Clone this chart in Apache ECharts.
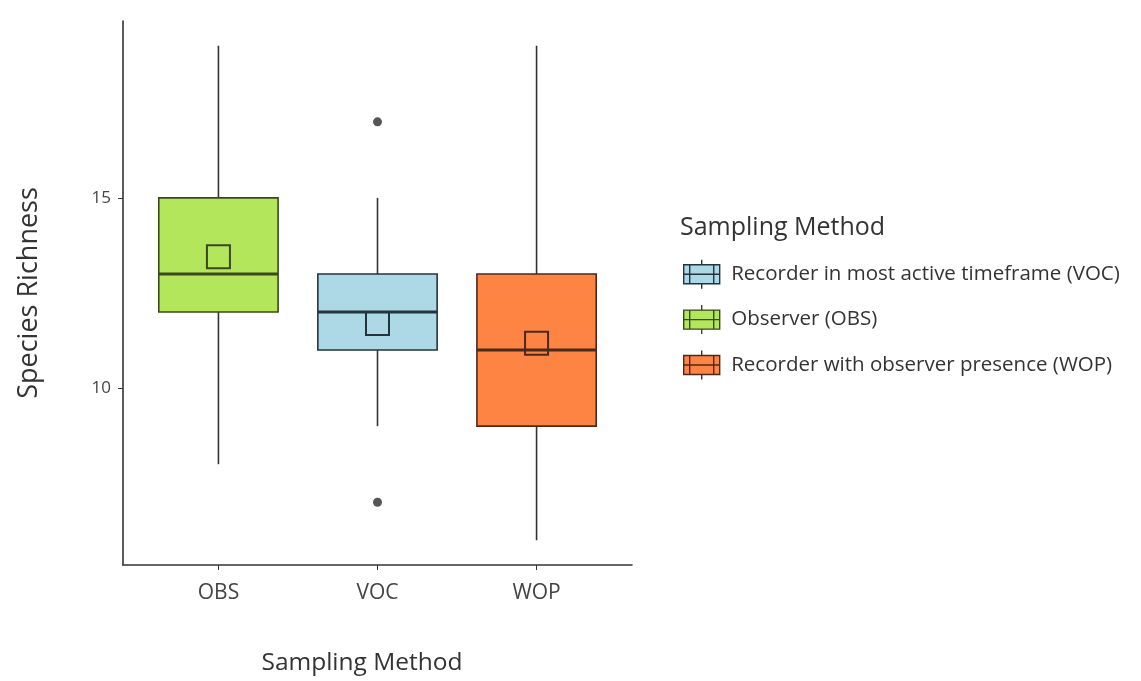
<!DOCTYPE html>
<html>
<head>
<meta charset="utf-8">
<title>Species Richness by Sampling Method</title>
<script src="https://cdn.jsdelivr.net/npm/echarts@6/dist/echarts.min.js"></script>
<style>
  html, body { margin: 0; padding: 0; background: #ffffff; }
  #chart { width: 1141px; height: 681px; }
</style>
</head>
<body>
<div id="chart"></div>
<script>
// Sampling methods along the x axis (positions 1, 2, 3)
const categories = ['OBS', 'VOC', 'WOP'];
const legendLabels = [
  'Observer (OBS)',
  'Recorder in most active timeframe (VOC)',
  'Recorder with observer presence (WOP)'
];
// Legend lists the methods in this order
const legendOrder = [1, 0, 2];

// Box statistics per method
const whiskerLow  = [8, 9, 6];
const quartile1   = [12, 11, 9];
const medians     = [13, 12, 11];
const quartile3   = [15, 13, 13];
const whiskerHigh = [19, 15, 19];
const means       = [13.45, 11.7, 11.18];

// Outlying observations: [method index, value]
const outliers = [[1, 17], [1, 7]];

// Y axis tick values
const yTicks = [10, 15];

const fills   = ['#b3e65b', '#add8e6', '#fd8443'];
const strokes = ['#3a4820', '#23343e', '#4a2a1c'];
const BOX_WIDTH = 0.75;
const FONT = '"Open Sans", "Noto Sans", sans-serif';

function renderBox(params, api) {
  const idx = params.seriesIndex;
  const x = api.value(0);
  const lo = api.coord([x, api.value(1)]);
  const q1 = api.coord([x, api.value(2)]);
  const md = api.coord([x, api.value(3)]);
  const q3 = api.coord([x, api.value(4)]);
  const hi = api.coord([x, api.value(5)]);
  const mn = api.coord([x, api.value(6)]);
  const halfW = api.size([BOX_WIDTH, 0])[0] / 2;
  const sq = 23;
  const whiskerStyle = { stroke: '#333333', lineWidth: 1.6 };
  return {
    type: 'group',
    children: [
      { type: 'line', shape: { x1: lo[0], y1: lo[1], x2: q1[0], y2: q1[1] }, style: whiskerStyle },
      { type: 'line', shape: { x1: q3[0], y1: q3[1], x2: hi[0], y2: hi[1] }, style: whiskerStyle },
      {
        type: 'rect',
        shape: { x: q3[0] - halfW, y: q3[1], width: halfW * 2, height: q1[1] - q3[1] },
        style: { fill: fills[idx], stroke: strokes[idx], lineWidth: 1.6 }
      },
      {
        type: 'line',
        shape: { x1: md[0] - halfW, y1: md[1], x2: md[0] + halfW, y2: md[1] },
        style: { stroke: strokes[idx], lineWidth: 3 }
      },
      {
        type: 'rect',
        shape: { x: mn[0] - sq / 2, y: mn[1] - sq / 2, width: sq, height: sq },
        style: { fill: 'none', stroke: strokes[idx], lineWidth: 2 }
      }
    ]
  };
}

const boxSeries = categories.map((c, i) => ({
  type: 'custom',
  name: legendLabels[i],
  itemStyle: { color: fills[i] },
  renderItem: renderBox,
  encode: { x: 0, y: [1, 2, 3, 4, 5, 6] },
  data: [[i + 1, whiskerLow[i], quartile1[i], medians[i], quartile3[i], whiskerHigh[i], means[i]]],
  z: 2
}));

// Boxplot key glyph for the legend
const keyIcon = 'path://M0,5 H36 V24 H0 Z M0,14.5 H36 M6,5 V24 M30,5 V24 M18,0 V5 M18,24 V29';

const option = {
  backgroundColor: '#ffffff',
  animation: false,
  textStyle: { fontFamily: FONT },
  grid: { left: 123, right: 509, top: 21, bottom: 114, containLabel: false },
  title: {
    text: 'Sampling Method',
    left: 675,
    top: 210,
    textStyle: { fontFamily: FONT, fontSize: 25, fontWeight: 'normal', color: '#333333' }
  },
  legend: {
    orient: 'vertical',
    left: 678,
    top: 254,
    itemWidth: 37,
    itemHeight: 29,
    itemGap: 15,
    icon: keyIcon,
    textStyle: { fontFamily: FONT, fontSize: 20.5, color: '#333333', padding: [0, 0, 0, 6] },
    data: legendOrder.map(i => ({
      name: legendLabels[i],
      itemStyle: { color: fills[i], borderColor: strokes[i], borderWidth: 1.4 }
    }))
  },
  xAxis: {
    type: 'value',
    min: 0.4,
    max: 3.6,
    name: 'Sampling Method',
    nameLocation: 'middle',
    nameGap: 86,
    nameTextStyle: { fontFamily: FONT, fontSize: 24.5, color: '#333333', padding: [0, 31, 0, 0] },
    splitLine: { show: false },
    axisLine: { show: true, lineStyle: { color: '#333333', width: 1.6 } },
    axisTick: { show: true, length: 5, lineStyle: { color: '#333333' }, customValues: [1, 2, 3] },
    axisLabel: {
      customValues: [1, 2, 3],
      formatter: v => categories[Math.round(v) - 1],
      fontFamily: FONT, fontSize: 21, color: '#444444', margin: 18
    }
  },
  yAxis: {
    type: 'value',
    min: 5.35,
    max: 19.65,
    name: 'Species Richness',
    nameLocation: 'middle',
    nameRotate: 90,
    nameGap: 80,
    nameTextStyle: { fontFamily: FONT, fontSize: 27, color: '#333333' },
    splitLine: { show: false },
    axisLine: { show: true, lineStyle: { color: '#333333', width: 1.6 } },
    axisTick: { show: true, length: 5, lineStyle: { color: '#333333' }, customValues: yTicks },
    axisLabel: {
      customValues: yTicks,
      fontFamily: FONT, fontSize: 17, color: '#444444', margin: 12
    }
  },
  series: boxSeries.concat([
    {
      type: 'scatter',
      name: 'outliers',
      symbol: 'circle',
      symbolSize: 9,
      itemStyle: { color: '#2b2b2b' },
      data: outliers.map(o => [o[0] + 1, o[1]]),
      z: 3
    }
  ])
};

const chart = echarts.init(document.getElementById('chart'), null, { renderer: 'canvas' });
chart.setOption(option);
</script>
</body>
</html>
